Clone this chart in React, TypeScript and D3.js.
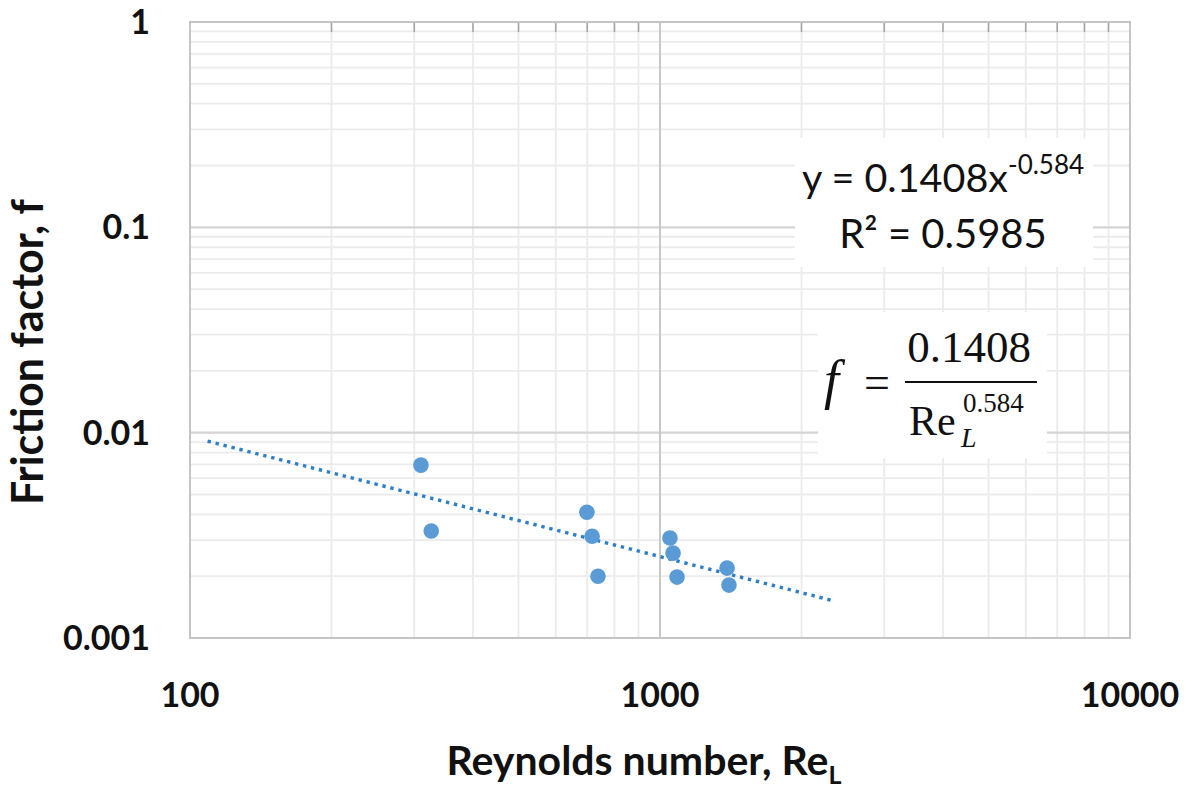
import React from "react";
import * as d3 from "d3";

// Measured points: Reynolds number vs friction factor
const reynolds = [310, 326, 699, 717, 738, 1050, 1066, 1087, 1389, 1402];
const friction = [0.00695, 0.00332, 0.0041, 0.00313, 0.002, 0.00307, 0.00259, 0.00198, 0.00219, 0.00181];

// Power-law fit y = a * x^b
const fitA = 0.1408;
const fitB = -0.584;
const fitR2 = 0.5985;
const fitRange = [109, 2360];

const xTicks = [100, 1000, 10000];
const yTicks = [1, 0.1, 0.01, 0.001];
const xTickLabels = ["100", "1000", "10000"];
const yTickLabels = ["1", "0.1", "0.01", "0.001"];

const W = 1187;
const H = 788;
const left = 190, right = 1130, top = 22, bottom = 638;

export default function App() {
  const x = d3.scaleLog().domain([100, 10000]).range([left, right]);
  const y = d3.scaleLog().domain([0.001, 1]).range([bottom, top]);

  // minor grid values: 2..9 within each decade
  const xMinor: number[] = [];
  [100, 1000].forEach((d) => { for (let k = 2; k <= 9; k++) xMinor.push(d * k); });
  const yMinor: number[] = [];
  [0.001, 0.01, 0.1].forEach((d) => { for (let k = 2; k <= 9; k++) yMinor.push(d * k); });

  const fitPts = d3.range(0, 61).map((i) => {
    const lx = Math.log10(fitRange[0]) + (Math.log10(fitRange[1]) - Math.log10(fitRange[0])) * (i / 60);
    const xv = Math.pow(10, lx);
    return [xv, fitA * Math.pow(xv, fitB)] as [number, number];
  });
  const line = d3.line<[number, number]>().x((d) => x(d[0])).y((d) => y(d[1]));

  const font = "Lato, 'Open Sans', sans-serif";
  const serif = "'Liberation Serif', 'Times New Roman', serif";

  return (
    <svg width={W} height={H} style={{ position: "absolute", left: 0, top: 0, background: "#fff" }}>
      <rect x={0} y={0} width={W} height={H} fill="#fff" />
      {/* minor grid */}
      {yMinor.map((v) => (
        <line key={"ym" + v} x1={left} x2={right} y1={y(v)} y2={y(v)} stroke="#ebebeb" strokeWidth={1.8} />
      ))}
      {xMinor.map((v) => (
        <line key={"xm" + v} x1={x(v)} x2={x(v)} y1={top} y2={bottom} stroke="#ebebeb" strokeWidth={1.8} />
      ))}
      {/* major grid */}
      {yTicks.slice(1, 3).map((v) => (
        <line key={"yM" + v} x1={left} x2={right} y1={y(v)} y2={y(v)} stroke="#d4d4d4" strokeWidth={2.2} />
      ))}
      <line x1={x(1000)} x2={x(1000)} y1={top} y2={bottom} stroke="#c8c8c8" strokeWidth={2} />
      {/* minor tick marks along the top axis */}
      {xMinor.map((v) => (
        <line key={"tk" + v} x1={x(v)} x2={x(v)} y1={top} y2={top + 10} stroke="#a6a6a6" strokeWidth={1.6} />
      ))}
      {/* plot frame */}
      <rect x={left} y={top} width={right - left} height={bottom - top} fill="none" stroke="#c4c4c4" strokeWidth={2} />

      {/* trendline */}
      <path d={line(fitPts) || ""} fill="none" stroke="#2f7fc8" strokeWidth={3.4} strokeDasharray="3.4 4.8" />

      {/* data points */}
      {reynolds.map((r, i) => (
        <circle key={i} cx={x(r)} cy={y(friction[i])} r={7.8} fill="#5b9bd5" />
      ))}

      {/* trendline label */}
      <rect x={795} y={138} width={298} height={129} fill="#fff" />
      <text x={943} y={192} textAnchor="middle" fontFamily={font} fontSize={39.5} fill="#111">
        y = {fitA}x<tspan dy={-18} fontSize={26}>{fitB}</tspan>
      </text>
      <text x={943} y={248} textAnchor="middle" fontFamily={font} fontSize={40} fill="#111">
        R² = {fitR2}
      </text>

      {/* formula */}
      <rect x={818} y={312} width={229} height={146} fill="#fff" />
      <text x={824} y={398} fontFamily={serif} fontStyle="italic" fontSize={54} fill="#111">f</text>
      <text x={864} y={398} fontFamily={serif} fontSize={46} fill="#111">=</text>
      <line x1={905} x2={1037} y1={382} y2={382} stroke="#111" strokeWidth={2.2} />
      <text x={969} y={362} textAnchor="middle" fontFamily={serif} fontSize={45} fill="#111">{fitA}</text>
      <text x={909} y={435} fontFamily={serif} fontSize={42} fill="#111">Re</text>
      <text x={963} y={412} fontFamily={serif} fontSize={27} fill="#111">{String(-fitB)}</text>
      <text x={961} y={447} fontFamily={serif} fontStyle="italic" fontSize={28} fill="#111">L</text>

      {/* tick labels */}
      {xTicks.map((v, i) => (
        <text key={"xt" + v} x={x(v)} y={707} textAnchor="middle" fontFamily={font} fontWeight={700} fontSize={34} fill="#111">
          {xTickLabels[i]}
        </text>
      ))}
      {yTicks.map((v, i) => (
        <text key={"yt" + v} x={150} y={y(v) + 12} textAnchor="end" fontFamily={font} fontWeight={700} fontSize={34} fill="#111">
          {yTickLabels[i]}
        </text>
      ))}

      {/* axis titles */}
      <text x={644} y={775} textAnchor="middle" fontFamily={font} fontWeight={700} fontSize={41} fill="#111">
        Reynolds number, Re<tspan dy={9} fontSize={25}>L</tspan>
      </text>
      <text transform="translate(43,352) rotate(-90)" textAnchor="middle" fontFamily={font} fontWeight={700} fontSize={43} fill="#111">
        Friction factor, f
      </text>
    </svg>
  );
}
